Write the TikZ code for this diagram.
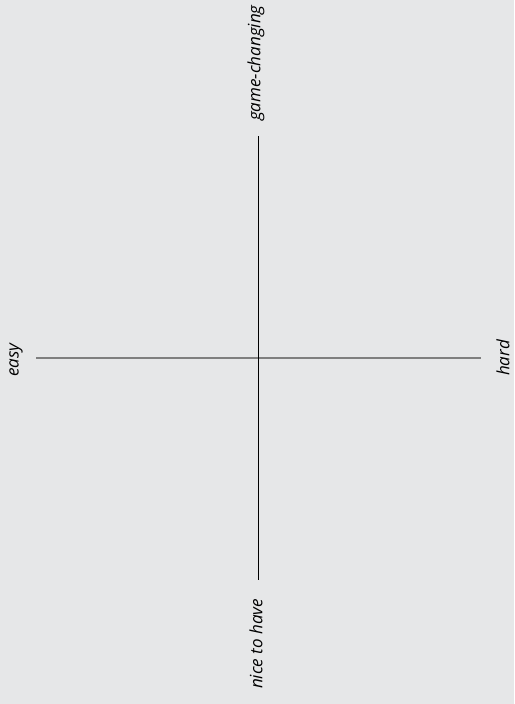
\documentclass[tikz,border=0pt]{standalone}
\usepackage{fontspec}
\setmainfont{Open Sans}
\definecolor{paper}{HTML}{E6E7E8}
\definecolor{axisgray}{HTML}{7F7F7F}
\begin{document}
\begin{tikzpicture}[x=1pt,y=-1pt,every node/.style={font=\fontsize{17}{20}\selectfont\itshape,rotate=90,inner sep=0pt}]
% canvas
\fill[paper] (0,0) rectangle (514,704);
\useasboundingbox (0,0) rectangle (514,704);
% axis ends
\coordinate (west) at (36,358);
\coordinate (east) at (481,358);
\coordinate (north) at (258,136);
\coordinate (south) at (258,580);
\draw[axisgray,line width=1.6pt] (west) -- (east);
\draw[black,line width=0.8pt] (north) -- (south);
% labels
\node (impact hi) at (256,63) {game-changing};
\node (impact lo) at (256,644) {nice to have};
\node (effort lo) at (16,360) {easy};
\node (effort hi) at (503,358) {hard};
\end{tikzpicture}
\end{document}
